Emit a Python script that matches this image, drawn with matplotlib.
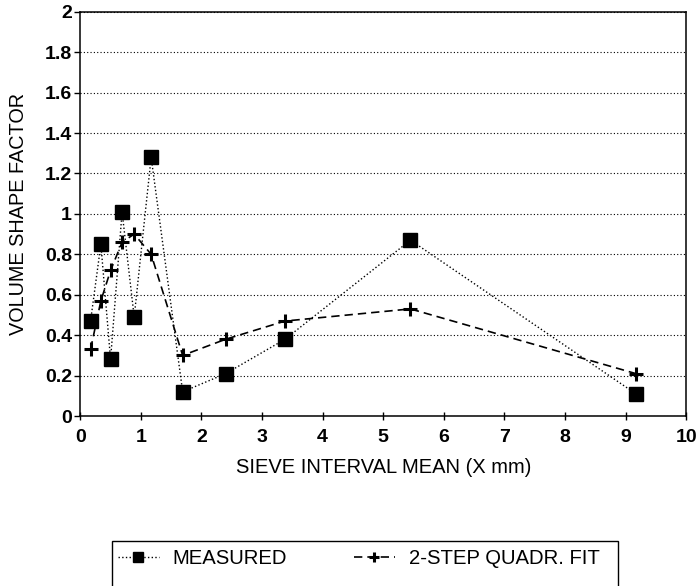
import matplotlib.pyplot as plt
from matplotlib.patches import Rectangle

# sieve interval mean (mm)
x_meas = [0.17, 0.34, 0.50, 0.69, 0.89, 1.17, 1.69, 2.40, 3.38, 5.45, 9.17]
measured = [0.47, 0.85, 0.28, 1.01, 0.49, 1.28, 0.12, 0.21, 0.38, 0.87, 0.11]
fit = [0.33, 0.57, 0.72, 0.86, 0.90, 0.80, 0.30, 0.38, 0.47, 0.53, 0.21]

x_ticks = list(range(0, 11))
y_ticks = [0, 0.2, 0.4, 0.6, 0.8, 1, 1.2, 1.4, 1.6, 1.8, 2]
y_tick_labels = ["0", "0.2", "0.4", "0.6", "0.8", "1", "1.2", "1.4", "1.6", "1.8", "2"]

plt.rcParams['font.family'] = ['Liberation Sans', 'DejaVu Sans']

W, H = 698, 586
fig = plt.figure(figsize=(W / 100, H / 100), dpi=100)
ax = fig.add_axes([0.115, 0.29, 0.868, 0.69])

ax.plot(x_meas, measured, color='black', linestyle=':', linewidth=1.0,
        marker='s', markersize=9.5, markerfacecolor='black', markeredgecolor='black',
        label='MEASURED')
ax.plot(x_meas, fit, color='black', linestyle=(0, (5, 3)), linewidth=1.2,
        marker='+', markersize=10, markeredgewidth=2.2,
        label='2-STEP QUADR. FIT')

ax.set_xlim(0, 10)
ax.set_ylim(0, 2)
ax.set_xticks(x_ticks)
ax.set_yticks(y_ticks)
ax.set_yticklabels(y_tick_labels)
ax.yaxis.grid(True, color='black', linestyle=(0, (1, 2)), linewidth=0.8)
ax.tick_params(axis='x', labelsize=14, direction='inout', length=6, width=1, pad=6)
ax.tick_params(axis='y', labelsize=14, direction='out', length=4, width=1, pad=2)
for lbl in ax.get_xticklabels() + ax.get_yticklabels():
    lbl.set_fontweight('bold')
for s in ax.spines.values():
    s.set_linewidth(1.1)

ax.set_xlabel('SIEVE INTERVAL MEAN (X mm)', fontsize=14.5, labelpad=9)
ax.set_ylabel('VOLUME SHAPE FACTOR', fontsize=14.3, labelpad=12)

# legend box runs off the bottom edge like in the scanned original
fig.patches.append(Rectangle((112 / W, -0.05), (618 - 112) / W, 0.05 + (H - 541) / H,
                             transform=fig.transFigure, fill=False,
                             edgecolor='black', linewidth=1.0))
leg = fig.legend(loc='center left', bbox_to_anchor=(118 / W, 1 - 559 / H), ncol=2,
                 fontsize=14.6, frameon=False, handlelength=2.0, handletextpad=0.7,
                 columnspacing=3.3, markerscale=0.75, borderpad=0, borderaxespad=0)

fig.savefig('out.png', dpi=100)
